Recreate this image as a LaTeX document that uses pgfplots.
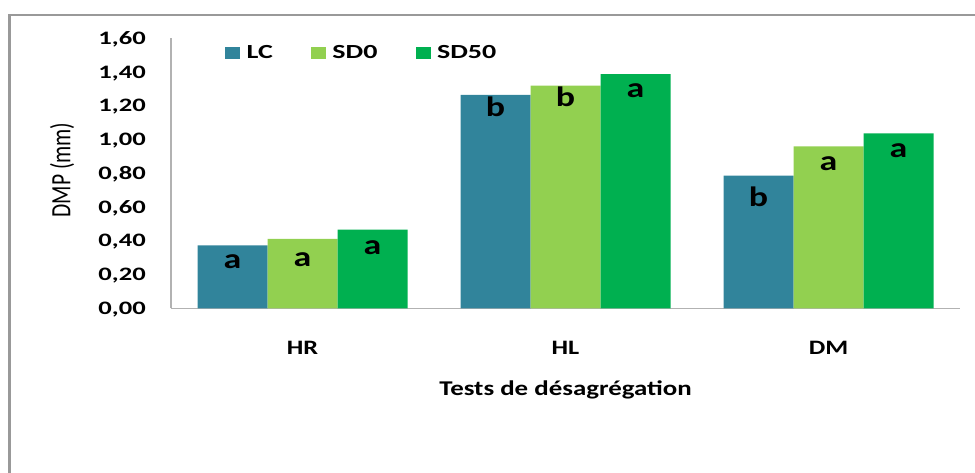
\documentclass[border=0pt]{standalone}
\usepackage{fontspec}
\setmainfont{Carlito}[FakeStretch=1.28]
\newfontfamily\widefont{Carlito}[FakeStretch=1.4]
\newfontfamily\ylabfont{Carlito}
\usepackage{pgfplots}
\usepackage{pgfplotstable}
\pgfplotsset{compat=1.18}
\definecolor{lcc}{HTML}{31849B}
\definecolor{sdz}{HTML}{92D050}
\definecolor{sdf}{HTML}{00B050}

\pgfplotstableread{
x y lab off
0 0.373 a 23
1 1.264 b 22
2 0.786 b 31
}\tabLC
\pgfplotstableread{
x y lab off
0 0.412 a 28
1 1.319 b 21
2 0.960 a 24
}\tabSDz
\pgfplotstableread{
x y lab off
0 0.466 a 25
1 1.388 a 23
2 1.037 a 24
}\tabSDf

\begin{document}
\begin{tikzpicture}
\draw[black!40, line width=2.5bp] (9.5bp,-5bp) -- (9.5bp,458bp) -- (980bp,458bp);
\begin{axis}[
  at={(171bp,164.7bp)}, anchor=south west, scale only axis,
  width=789bp, height=270bp,
  xmin=-0.5, xmax=2.5, ymin=0, ymax=1.6,
  ybar=0pt, bar width=70bp,
  axis x line*=bottom, axis y line*=left,
  axis line style={draw=black!30, line width=1.2bp, -},
  xtick={0,1,2}, xticklabels={HR,HL,DM},
  ytick={0,0.2,0.4,0.6,0.8,1.0,1.2,1.4,1.6},
  major tick length=0pt,
  /pgf/number format/.cd, fixed, fixed zerofill, precision=2, use comma, assume math mode=true,
  /pgfplots/.cd,
  yticklabel style={font=\widefont\fontsize{19bp}{22bp}\selectfont\bfseries, anchor=base east, inner sep=0pt, xshift=-25bp, yshift=-6bp},
  xticklabel style={font=\fontsize{20.5bp}{24bp}\selectfont\bfseries, anchor=base, inner sep=0pt, yshift=-45.7bp},
  xlabel={Tests de désagrégation},
  xlabel style={font=\fontsize{21bp}{24bp}\selectfont\bfseries, at={(axis description cs:0.5,0)}, anchor=base, inner sep=0pt, yshift=-86.7bp},
  legend columns=3,
  legend style={at={(axis description cs:0.0684,0.9456)}, anchor=west, draw=none, fill=none, inner sep=0pt,
    font=\widefont\fontsize{20bp}{23bp}\selectfont\bfseries,
    nodes={inner sep=0pt},
    /tikz/every odd column/.append style={column sep=6.5bp},
    /tikz/every even column/.append style={column sep=38bp}},
  legend image code/.code={\fill[#1] (0bp,-6bp) rectangle (15bp,6bp);},
  every node near coord/.append style={font=\fontsize{28bp}{32bp}\selectfont\bfseries, anchor=base, inner sep=0pt, yshift=-\off bp},
]
\addplot[fill=lcc, draw=none, nodes near coords, point meta=explicit symbolic,
  visualization depends on={\thisrow{off}\as\off}] table[x=x, y=y, meta=lab]{\tabLC};
\addplot[fill=sdz, draw=none, nodes near coords, point meta=explicit symbolic,
  visualization depends on={\thisrow{off}\as\off}] table[x=x, y=y, meta=lab]{\tabSDz};
\addplot[fill=sdf, draw=none, nodes near coords, point meta=explicit symbolic,
  visualization depends on={\thisrow{off}\as\off}] table[x=x, y=y, meta=lab]{\tabSDf};
\legend{LC,SD0,SD50}
\end{axis}
\node[xscale=1.3, rotate=90, font=\ylabfont\fontsize{21.5bp}{24bp}\selectfont, inner sep=0pt] at (62bp,303bp) {DMP (mm)};
\pgfresetboundingbox
\useasboundingbox (0,0) rectangle (975bp,473bp);
\end{tikzpicture}
\end{document}
